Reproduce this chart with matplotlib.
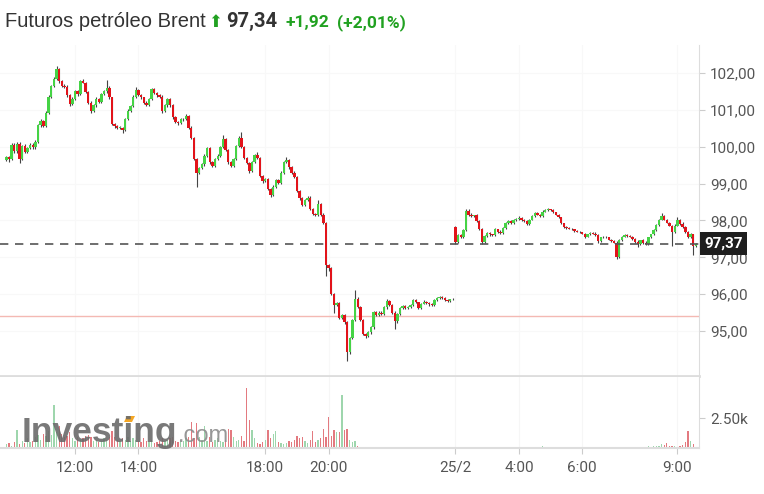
import matplotlib
matplotlib.use("Agg")
import matplotlib.pyplot as plt
from matplotlib.patches import Polygon
import numpy as np

plt.rcParams['font.family'] = ['Roboto', 'DejaVu Sans']

# 5-minute candles, session 1 (9:50 - 23:55) then session 2 (25/2, 2:00 - 9:35)
close_s1 = [
    99.72, 99.66, 100.06, 99.88, 100.08, 99.68, 100.02, 99.86, 99.96, 100.06, 99.98, 100.12,
    100.58, 100.70, 100.56, 100.92, 101.36, 101.66, 101.84, 102.10, 101.78, 101.66, 101.62, 101.40,
    101.16, 101.30, 101.50, 101.42, 101.78, 101.74, 101.48, 101.20, 100.96, 101.12, 101.30, 101.22,
    101.42, 101.50, 101.60, 101.34, 100.62, 100.56, 100.52, 100.52, 100.46, 100.76, 100.98, 101.10,
    101.36, 101.54, 101.40, 101.34, 101.20, 101.14, 101.30, 101.56, 101.46, 101.40, 101.36, 100.98,
    101.12, 101.30, 101.12, 100.80, 100.68, 100.64, 100.74, 100.76, 100.84, 100.52, 100.24, 99.66,
    99.30, 99.42, 99.52, 99.76, 99.96, 99.58, 99.48, 99.66, 99.76, 100.00, 100.22, 99.92,
    99.58, 99.48, 99.66, 100.02, 100.24, 100.00, 99.70, 99.56, 99.34, 99.58, 99.78, 99.70,
    99.20, 99.06, 99.12, 98.86, 98.70, 98.92, 99.10, 99.02, 99.30, 99.58, 99.64, 99.44,
    99.30, 99.18, 98.80, 98.60, 98.42, 98.56, 98.62, 98.30, 98.18, 98.14, 98.44, 98.14,
    97.92, 96.80, 96.70, 96.00, 95.70, 95.76, 95.36, 95.44, 95.24, 94.42, 94.80, 95.30,
    95.88, 95.66, 95.30, 94.92, 94.86, 94.96, 95.10, 95.52, 95.44, 95.50, 95.46, 95.64,
    95.82, 95.70, 95.50, 95.26, 95.46, 95.62, 95.68, 95.62, 95.66, 95.70, 95.84, 95.78,
    95.62, 95.74, 95.80, 95.76, 95.72, 95.70, 95.84, 95.90, 95.92, 95.90, 95.84, 95.82,
    95.86, 95.88,
]
close_s2 = [
    97.42, 97.60, 97.56, 97.74, 98.26, 98.16, 98.12, 98.14, 97.98, 97.76, 97.42, 97.58,
    97.66, 97.62, 97.60, 97.76, 97.70, 97.66, 97.80, 97.92, 97.98, 97.92, 98.00, 98.04,
    98.06, 98.02, 97.98, 97.90, 98.02, 98.12, 98.20, 98.16, 98.12, 98.24, 98.28, 98.30,
    98.28, 98.22, 98.16, 98.08, 97.92, 97.82, 97.80, 97.78, 97.76, 97.72, 97.70, 97.68,
    97.64, 97.56, 97.62, 97.66, 97.64, 97.60, 97.44, 97.54, 97.56, 97.54, 97.48, 97.44,
    97.40, 97.00, 97.46, 97.56, 97.60, 97.58, 97.56, 97.50, 97.42, 97.36, 97.46, 97.40,
    97.36, 97.54, 97.62, 97.74, 97.88, 98.02, 98.12, 98.02, 97.94, 97.86, 97.70, 97.86,
    98.02, 97.90, 97.82, 97.70, 97.56, 97.62, 97.30, 97.37,
]
open_s1 = 99.64   # first open of each session
open_s2 = 97.82

# wick lengths above / below the body (in cents)
wick_hi = [
    4, 3, 5, 3, 6, 4, 3, 5, 3, 4, 3, 5,
    3, 4, 2, 4, 3, 2, 4, 9, 3, 4, 3, 5,
    3, 4, 3, 4, 3, 5, 2, 3, 4, 3, 4, 3,
    3, 4, 21, 4, 2, 3, 4, 3, 2, 3, 4, 3,
    3, 8, 3, 4, 2, 3, 3, 4, 3, 2, 3, 5,
    3, 3, 2, 3, 3, 2, 3, 3, 4, 2, 3, 2,
    3, 4, 3, 3, 4, 3, 3, 4, 3, 3, 10, 3,
    3, 2, 3, 3, 4, 16, 3, 3, 2, 3, 3, 8,
    3, 3, 3, 3, 2, 3, 3, 3, 4, 4, 8, 3,
    3, 3, 3, 2, 3, 3, 4, 3, 3, 3, 11, 3,
    6, 3, 3, 4, 3, 3, 4, 3, 3, 3, 4, 3,
    22, 4, 3, 3, 3, 3, 3, 3, 3, 4, 3, 3,
    5, 3, 3, 3, 3, 3, 2, 3, 2, 3, 3, 2,
    2, 2, 3, 2, 2, 3, 2, 2, 2, 2, 2, 2,
    2, 2, 3, 4, 3, 3, 6, 6, 3, 2, 3, 2,
    3, 3, 2, 3, 2, 3, 2, 3, 2, 4, 2, 2,
    3, 2, 5, 2, 2, 3, 2, 2, 3, 2, 2, 3,
    2, 3, 2, 2, 2, 2, 2, 2, 2, 2, 2, 2,
    2, 2, 2, 2, 2, 2, 3, 4, 3, 2, 2, 2,
    2, 2, 2, 3, 3, 2, 2, 2, 2, 2, 2, 4,
    2, 3, 3, 2, 2, 2, 2, 3, 8, 3, 2, 2,
    2, 3, 8, 2, 7, 3, 2, 3, 2, 3,
]
wick_lo = [
    4, 8, 3, 5, 4, 12, 3, 4, 3, 3, 4, 3,
    3, 4, 3, 3, 2, 3, 3, 2, 4, 3, 3, 4,
    6, 3, 3, 4, 3, 2, 3, 4, 4, 3, 3, 4,
    3, 3, 3, 4, 3, 4, 3, 3, 9, 3, 3, 3,
    3, 3, 3, 4, 3, 3, 3, 3, 3, 4, 3, 6,
    3, 3, 3, 4, 3, 4, 3, 3, 3, 3, 4, 3,
    40, 3, 3, 3, 3, 4, 3, 3, 3, 3, 3, 3,
    4, 3, 3, 3, 3, 3, 3, 3, 6, 3, 3, 3,
    3, 4, 3, 3, 6, 3, 3, 3, 3, 3, 3, 4,
    3, 3, 3, 4, 3, 3, 3, 3, 4, 3, 3, 3,
    3, 30, 6, 3, 20, 3, 4, 3, 4, 22, 3, 3,
    3, 3, 4, 3, 4, 3, 3, 4, 3, 3, 3, 3,
    3, 3, 4, 20, 3, 3, 3, 3, 3, 3, 3, 3,
    3, 2, 2, 2, 3, 2, 2, 2, 2, 2, 2, 2,
    2, 2, 6, 3, 3, 3, 3, 3, 3, 3, 3, 3,
    5, 3, 3, 3, 3, 2, 3, 3, 2, 2, 3, 2,
    2, 2, 2, 3, 2, 2, 2, 2, 2, 2, 2, 2,
    2, 2, 2, 2, 2, 2, 2, 2, 3, 2, 2, 2,
    2, 2, 2, 3, 2, 2, 2, 2, 6, 2, 2, 2,
    2, 2, 2, 4, 3, 2, 2, 2, 2, 2, 2, 8,
    3, 5, 2, 2, 2, 2, 2, 2, 2, 2, 2, 2,
    40, 3, 2, 3, 2, 3, 3, 3, 23, 3,
]
# volume in thousands
volume = [
    0.3, 0.4, 0.2, 0.5, 1.5, 0.3, 0.6, 0.4, 0.8, 0.5, 0.6, 0.9,
    1.1, 0.7, 1.2, 1.0, 1.4, 1.1, 3.6, 1.3, 1.8, 1.2, 0.9, 1.0,
    1.3, 0.8, 0.6, 0.9, 0.7, 0.8, 1.0, 1.1, 0.9, 0.6, 0.7, 0.5,
    0.6, 0.8, 0.7, 0.9, 1.4, 0.9, 0.7, 0.6, 0.8, 0.7, 0.9, 0.6,
    0.8, 0.7, 0.6, 0.5, 0.8, 0.6, 0.5, 0.7, 0.4, 0.5, 0.6, 0.8,
    0.6, 0.7, 0.8, 0.9, 0.6, 0.5, 0.7, 0.6, 0.8, 0.9, 2.2, 0.8,
    2.1, 0.9, 0.7, 1.8, 0.6, 0.9, 0.5, 0.7, 0.8, 0.6, 0.5, 0.7,
    1.6, 1.5, 0.9, 0.6, 0.7, 1.0, 0.6, 5.0, 2.3, 1.5, 0.8, 0.4,
    0.3, 0.5, 0.7, 1.5, 0.8, 1.2, 1.4, 0.5, 0.4, 0.3, 0.4, 0.6,
    0.5, 0.7, 1.0, 0.8, 0.9, 0.6, 0.4, 0.7, 1.4, 0.5, 0.7, 0.8,
    1.6, 0.9, 2.6, 1.0, 1.5, 1.3, 1.3, 4.4, 1.5, 1.6, 0.7, 0.5,
    0.6, 0.15, 0.1, 0.08, 0.12, 0.06, 0.1, 0.05, 0.08, 0.06, 0.1, 0.05,
    0.06, 0.08, 0.05, 0.1, 0.06, 0.05, 0.07, 0.05, 0.04, 0.06, 0.05, 0.04,
    0.05, 0.04, 0.06, 0.05, 0.04, 0.05, 0.04, 0.05, 0.04, 0.03, 0.05, 0.04,
    0.03, 0.04,
    0.1, 0.06, 0.05, 0.04, 0.08, 0.05, 0.12, 0.04, 0.05, 0.03, 0.06, 0.04,
    0.04, 0.03, 0.05, 0.04, 0.03, 0.04, 0.05, 0.03, 0.04, 0.03, 0.04, 0.03,
    0.12, 0.03, 0.04, 0.03, 0.05, 0.04, 0.03, 0.04, 0.05, 0.18, 0.04, 0.03,
    0.04, 0.03, 0.05, 0.04, 0.03, 0.04, 0.03, 0.05, 0.04, 0.03, 0.04, 0.05,
    0.03, 0.04, 0.03, 0.05, 0.04, 0.03, 0.04, 0.05, 0.04, 0.03, 0.04, 0.05,
    0.06, 0.08, 0.05, 0.04, 0.06, 0.05, 0.07, 0.06, 0.08, 0.1, 0.09, 0.12,
    0.1, 0.15, 0.12, 0.2, 0.18, 0.14, 0.3, 0.25, 0.4, 0.18, 0.2, 0.15,
    0.12, 0.2, 0.25, 0.5, 1.4, 0.6, 0.3, 0.1,
]
tick_pos = [26, 50, 98, 122, 170, 194, 218, 254]   # candle index of each label
tick_lab = ['12:00', '14:00', '18:00', '20:00', '25/2', '4:00', '6:00', '9:00']
last_price = 97.37
prev_close = 95.42

closes = np.array(close_s1 + close_s2)
opens = np.array([open_s1] + close_s1[:-1] + [open_s2] + close_s2[:-1])
highs = np.maximum(opens, closes) + np.array(wick_hi) / 100
lows = np.minimum(opens, closes) - np.array(wick_lo) / 100
vol = np.array(volume)
idx = np.arange(len(closes))

up_col, dn_col = '#45d345', '#e2131a'
up = closes >= opens
body_col = np.where(up, up_col, dn_col)
vol_col = np.where(up, '#9ed6ad', '#e37a80')

fig = plt.figure(figsize=(7.64, 4.94), dpi=100)
ax = fig.add_axes([0, 0.2389, 0.915, 0.670])
axv = fig.add_axes([0, 0.0931, 0.915, 0.1437])

# candles
ax.vlines(idx, lows, highs, color='#444444', lw=0.8, zorder=2)
body_h = np.maximum(np.abs(closes - opens), 0.02)
ax.bar(idx, body_h, bottom=np.minimum(opens, closes), width=0.9,
       color=body_col, linewidth=0, zorder=3)

ax.axhline(last_price, color='#555555', lw=1.2, ls=(0, (5, 4)), zorder=4)
ax.axhline(prev_close, color='#f4b9b3', lw=1.0, zorder=1)

ax.set_xlim(-2.4, 262.2)
ax.set_ylim(93.78, 102.76)
ax.set_yticks(range(95, 103))
ax.set_yticklabels(['{:.2f}'.format(v).replace('.', ',') for v in range(95, 103)])
ax.yaxis.tick_right()
ax.set_xticks(tick_pos)
ax.tick_params(axis='x', length=0, labelbottom=False)
ax.tick_params(axis='y', length=4, color='#cccccc', labelcolor='#555555',
               labelsize=11, pad=4)
ax.grid(True, color='#f8f8f8', lw=0.8)
ax.set_axisbelow(True)
for s in ['top', 'left']:
    ax.spines[s].set_visible(False)
ax.spines['right'].set_color('#dddddd')
ax.spines['bottom'].set_color('#dddddd')
ax.spines['bottom'].set_linewidth(2)

# last price box
ax.annotate('97,37', xy=(1.0, last_price), xycoords=('axes fraction', 'data'),
            xytext=(4, 0), textcoords='offset points', ha='left', va='center',
            color='white', fontsize=11, fontweight='bold', annotation_clip=False,
            bbox=dict(boxstyle='square,pad=0.28', fc='#1e1e1e', ec='none'))

# volume
axv.bar(idx, vol, width=0.5, color=vol_col, linewidth=0)
axv.set_xlim(-2.4, 262.2)
axv.set_ylim(0, 5.92)
axv.set_yticks([2.5])
axv.set_yticklabels(['2.50k'])
axv.yaxis.tick_right()
axv.set_xticks(tick_pos)
axv.set_xticklabels(tick_lab)
axv.tick_params(axis='x', length=4, color='#cccccc', labelcolor='#555555',
                labelsize=11, pad=5)
axv.tick_params(axis='y', length=4, color='#cccccc', labelcolor='#555555',
                labelsize=11, pad=4)
axv.grid(True, axis='x', color='#f6f6f6', lw=0.8)
axv.set_axisbelow(True)
for s in ['top', 'left']:
    axv.spines[s].set_visible(False)
axv.spines['right'].set_color('#dddddd')
axv.spines['bottom'].set_color('#dddddd')
axv.spines['bottom'].set_linewidth(1.5)

# watermark
fig.text(22 / 764, 1 - 442 / 494, 'Investing', fontfamily='Liberation Sans',
         fontweight='bold', fontsize=25.5, color='#6a6a6a', alpha=0.9, va='baseline')
fig.text(178 / 764, 1 - 442 / 494, '.com', fontfamily='Liberation Sans',
         fontsize=17, color='#8c8c8c', alpha=0.9, va='baseline')
dot = [(124, 422), (127, 416), (135, 416), (132, 422)]
fig.patches.append(Polygon([(x / 764, 1 - y / 494) for x, y in dot], closed=True,
                           transform=fig.transFigure, fc='#f5a623', ec='none'))

# title
base = 1 - 27 / 494
fig.text(5 / 764, base, 'Futuros petróleo Brent', fontfamily='Liberation Sans',
         fontsize=14.5, color='#333333', va='baseline')
fig.text(208 / 764, base, '⬆', fontfamily='DejaVu Sans', fontsize=12, color='#21a121', va='baseline')
fig.text(226 / 764, base, '97,34', fontsize=14.5, fontweight='bold', color='#333333', va='baseline')
fig.text(285 / 764, base, '+1,92', fontsize=12.5, fontweight='bold', color='#21a121', va='baseline')
fig.text(337 / 764, base, '(+2,01%)', fontsize=12.5, fontweight='bold', color='#21a121', va='baseline')

fig.savefig('out.png', dpi=100)
